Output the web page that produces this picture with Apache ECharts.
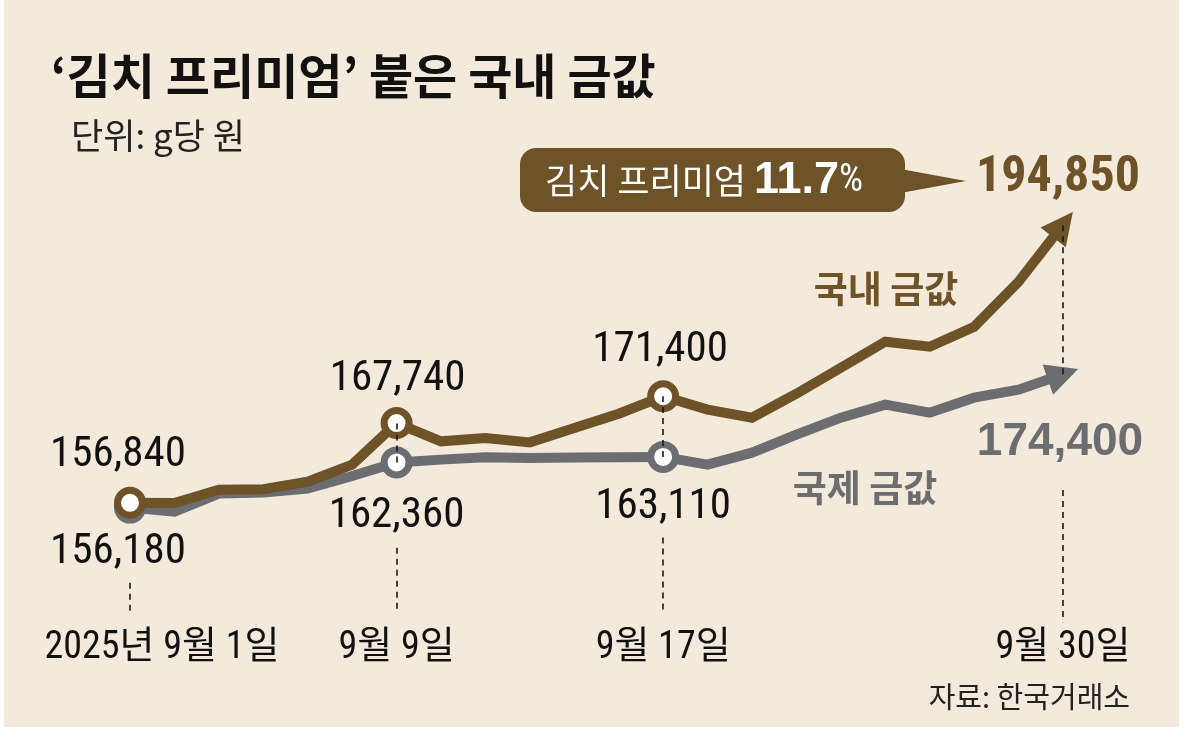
<!DOCTYPE html>
<html><head><meta charset="utf-8">
<script src="https://cdn.jsdelivr.net/npm/echarts@6/dist/echarts.min.js"></script>
<style>html,body{margin:0;padding:0;background:#fff}#c{width:1185px;height:738px}</style>
</head><body><div id="c"></div>
<script>
// ---- data ----
const dates = ['9/1','9/2','9/3','9/4','9/5','9/8','9/9','9/10','9/11','9/12','9/15','9/16','9/17','9/18','9/19','9/22','9/23','9/24','9/25','9/26','9/29','9/30'];
const domestic = [156840,156800,158620,158700,159730,162050,167740,165240,165700,165100,167070,169020,171400,169570,168470,171750,175300,178860,178170,180900,187050,194850];
const international = [156180,155630,158100,158250,158800,160500,162360,162740,163050,162970,163020,163080,163110,162050,163690,166150,168470,170250,169160,171210,172300,174400];
const tickDates = ['9/1','9/9','9/17','9/30'];
const tickTexts = ['2025년 9월 1일','9월 9일','9월 17일','9월 30일'];
const markedDates = ['9/1','9/9','9/17'];
// dashed guide segments [date, from, to]
const guideDates = ['9/1','9/9','9/17','9/30','9/9','9/17','9/30'];
const guideFrom  = [145900,150700,152100,158600,162360,163110,174400];
const guideTo    = [142000,141800,141600,140500,167740,171400,194850];

const BROWN = '#6e5228', GRAY = '#6c6d71', BG = '#f4eadb';
const NUMFONT = "'Liberation Sans Narrow','Roboto Condensed','Noto Sans CJK KR',sans-serif";
const KR = "'Noto Sans CJK KR',sans-serif";
const fmt = v => v.toLocaleString('en-US');

function buildData(vals, color, labelOffsets, endLabel, rot) {
  return vals.map((v, i) => {
    const d = dates[i];
    const item = { value: v, symbol: 'none' };
    if (markedDates.includes(d)) {
      item.symbol = 'circle';
      item.symbolSize = 25;
      item.itemStyle = { color: '#fff', borderColor: color, borderWidth: 7 };
      item.label = { show: true, position: 'inside', offset: labelOffsets[d], formatter: fmt(v),
        fontFamily: NUMFONT, fontSize: 43, color: '#111' };
    }
    if (i === vals.length - 1) {
      item.symbol = 'triangle';
      item.symbolSize = [32, 32];
      item.symbolRotate = rot;
      item.itemStyle = { color: color };
      item.label = Object.assign({ show: true, position: 'inside', formatter: fmt(v) }, endLabel);
    }
    return item;
  });
}

const chart = echarts.init(document.getElementById('c'));

function makeOption(rotB, rotG) {
  return {
    backgroundColor: BG,
    animation: false,
    title: [
      { text: '‘김치 프리미엄’ 붙은 국내 금값', left: 46, top: 47,
        textStyle: { fontFamily: KR, fontSize: 48, fontWeight: 'bold', color: '#111' } },
      { text: '단위: g당 원', left: 66, top: 113,
        textStyle: { fontFamily: KR, fontSize: 35, fontWeight: 'normal', color: '#222' } }
    ],
    grid: { left: 130, right: 122, top: 187, height: 439, containLabel: false, outerBoundsMode: 'none' },
    xAxis: {
      type: 'category', data: dates, boundaryGap: false,
      axisLine: { show: false }, axisTick: { show: false }, splitLine: { show: false },
      axisLabel: {
        interval: (idx, val) => tickDates.includes(val),
        formatter: val => {
          const t = tickTexts[tickDates.indexOf(val)];
          return val === tickDates[0] ? '{f|' + t + '}' : t;
        },
        margin: 2, fontFamily: NUMFONT, fontSize: 38, lineHeight: 40, color: '#111',
        rich: { f: { fontFamily: NUMFONT, fontSize: 38, lineHeight: 40, color: '#111', padding: [0, 0, 0, 64] } }
      }
    },
    yAxis: { type: 'value', min: 140000, max: 200000, show: false, splitLine: { show: false } },
    series: [
      { type: 'line', z: 1, data: [], silent: true,
        markLine: { silent: true, symbol: 'none', label: { show: false },
          lineStyle: { type: [6, 5], color: '#1a1a1a', width: 1.6 },
          data: guideDates.map((d, i) => [{ coord: [d, guideFrom[i]] }, { coord: [d, guideTo[i]] }]) } },
      { name: '국제 금값', type: 'line', z: 3, data: buildData(international, GRAY,
          { '9/1': [-12, 45], '9/9': [0, 54], '9/17': [0, 50] },
          { offset: [-3, 68], fontFamily: "'Liberation Sans','Noto Sans CJK KR',sans-serif", fontWeight: 'bold', fontSize: 46, color: GRAY }, rotG),
        lineStyle: { color: GRAY, width: 10, join: 'miter' }, itemStyle: { color: GRAY } },
      { name: '국내 금값', type: 'line', z: 4, data: buildData(domestic, BROWN,
          { '9/1': [-12, -48], '9/9': [1, -44], '9/17': [-3, -46] },
          { offset: [-5, -46], fontFamily: NUMFONT, fontWeight: 'bold', fontSize: 50, color: BROWN }, rotB),
        lineStyle: { color: BROWN, width: 10, join: 'miter' }, itemStyle: { color: BROWN } }
    ],
    graphic: [
      { type: 'rect', shape: { x: 0, y: 0, width: 4, height: 738 }, style: { fill: '#fff' }, z: 100 },
      { type: 'rect', shape: { x: 1179, y: 0, width: 6, height: 738 }, style: { fill: '#fff' }, z: 100 },
      { type: 'rect', shape: { x: 0, y: 727, width: 1185, height: 11 }, style: { fill: '#fff' }, z: 100 },
      { type: 'polygon', shape: { points: [[895, 168], [966, 181], [895, 194]] }, style: { fill: BROWN }, z: 10 },
      { type: 'rect', shape: { x: 520, y: 148, width: 385, height: 64, r: 16 }, style: { fill: BROWN }, z: 10 },
      { type: 'text', z: 11, style: { x: 545, y: 181, verticalAlign: 'middle', fill: '#fff',
          text: '{a|김치 프리미엄 }{b|11.7}{c|%}',
          rich: { a: { fontFamily: KR, fontSize: 35, fill: '#fff', color: '#fff' },
                  b: { fontFamily: "'Liberation Sans',sans-serif", fontSize: 45, fontWeight: 'bold', fill: '#fff', color: '#fff' },
                  c: { fontFamily: NUMFONT, fontSize: 38, fill: '#fff', color: '#fff' } } } },
      { type: 'text', z: 11, style: { x: 886, y: 289, align: 'center', verticalAlign: 'middle',
          text: '국내 금값', fill: BROWN, font: "bold 37px 'Noto Sans CJK KR'" } },
      { type: 'text', z: 11, style: { x: 865, y: 488, align: 'center', verticalAlign: 'middle',
          text: '국제 금값', fill: GRAY, font: "bold 37px 'Noto Sans CJK KR'" } },
      { type: 'text', z: 11, style: { x: 1130, y: 697, align: 'right', verticalAlign: 'middle',
          text: '자료: 한국거래소', fill: '#222', font: "29px 'Noto Sans CJK KR'" } }
    ]
  };
}

chart.setOption(makeOption(0, 0));
function rotFor(si, vals) {
  const n = vals.length;
  const p0 = chart.convertToPixel({ seriesIndex: si }, [dates[n - 2], vals[n - 2]]);
  const p1 = chart.convertToPixel({ seriesIndex: si }, [dates[n - 1], vals[n - 1]]);
  const ang = Math.atan2(-(p1[1] - p0[1]), p1[0] - p0[0]) * 180 / Math.PI;
  return ang - 90;
}
const rB = rotFor(2, domestic), rG = rotFor(1, international);
chart.setOption(makeOption(rB, rG), true);
</script></body></html>
